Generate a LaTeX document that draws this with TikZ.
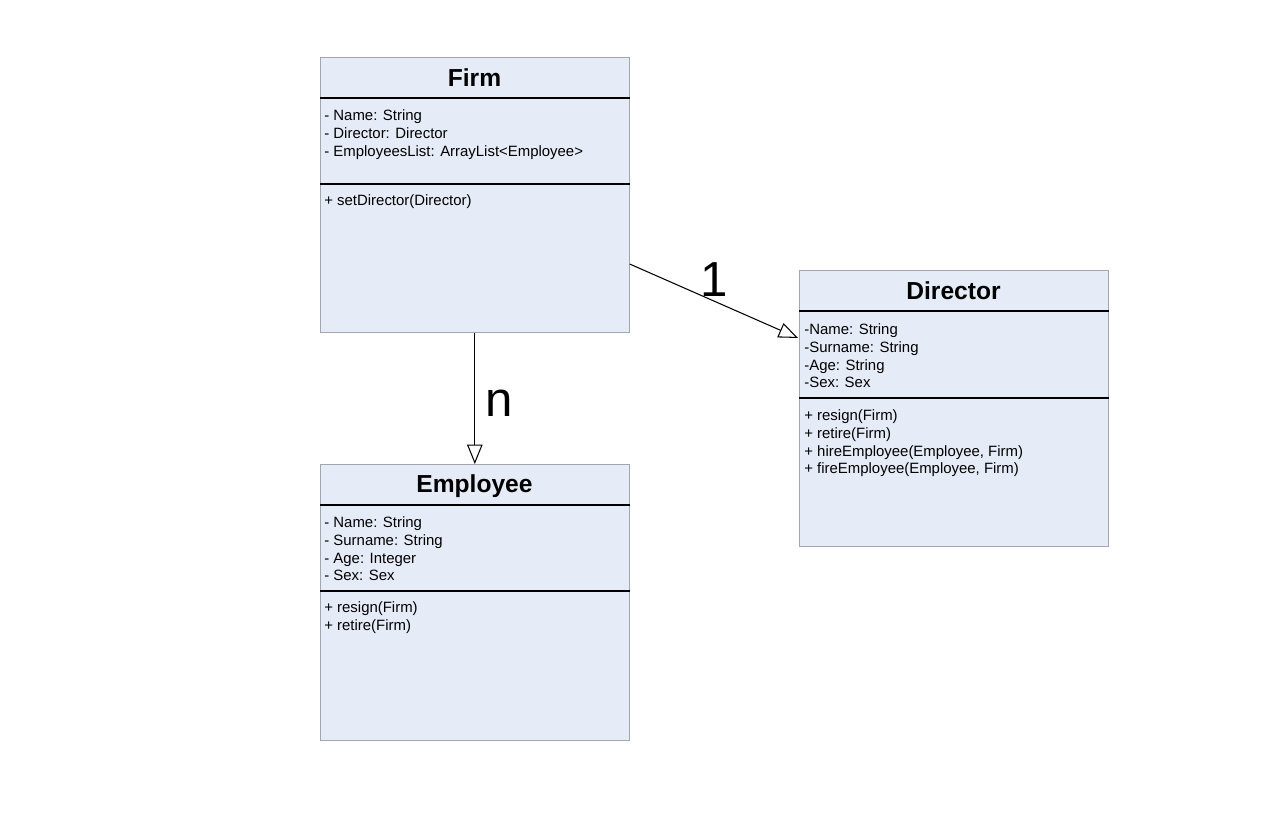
\documentclass[tikz,border=0pt]{standalone}
\usepackage{fontspec}
\setmainfont{Liberation Sans}
\usepackage{tikz}
\usetikzlibrary{arrows.meta,positioning,calc}
\usepackage{xcolor}
\definecolor{classfill}{HTML}{E6ECF7}
\definecolor{classrim}{HTML}{A4A6AE}

\begin{document}
\begin{tikzpicture}[
  x=0.02cm, y=-0.02cm,
  classbox/.style={draw=classrim, fill=classfill, anchor=north west, inner sep=0pt,
                   minimum width=6.18cm, minimum height=5.52cm},
  classname/.style={anchor=base, inner sep=0pt, font=\bfseries\fontsize{14}{16}\selectfont},
  members/.style={anchor=north west, align=left, inner sep=0pt,
                  font=\fontsize{8.5}{10.2}\selectfont},
  sep/.style={line width=0.75pt},
  arr/.style={-{Triangle[open, length=11pt, width=8.8pt]}, line width=0.6pt},
  mult/.style={inner sep=2pt, font=\fontsize{28}{30}\selectfont}
]
\useasboundingbox (0,0) rectangle (1268,830);

% Firm
\node[classbox, minimum height=5.5cm] (firm) at (320,57) {};
\node[classname] (firmname) at (474.5,87) {Firm};
\draw[sep] ($(firm.north west)+(0,41)$) -- ($(firm.north east)+(0,41)$);
\node[members] (firmattr) at (324,109) {- Name: String\\- Director: Director\\- EmployeesList: ArrayList<Employee>};
\draw[sep] ($(firm.north west)+(0,127)$) -- ($(firm.north east)+(0,127)$);
\node[members] (firmops) at (324,194) {+ setDirector(Director)};

% Director
\node[classbox] (director) at (799,270) {};
\node[classname] (dirname) at (953.5,300) {Director};
\draw[sep] ($(director.north west)+(0,41)$) -- ($(director.north east)+(0,41)$);
\node[members] (dirattr) at (804,323) {-Name: String\\-Surname: String\\-Age: String\\-Sex: Sex};
\draw[sep] ($(director.north west)+(0,128)$) -- ($(director.north east)+(0,128)$);
\node[members] (dirops) at (804,409) {+ resign(Firm)\\+ retire(Firm)\\+ hireEmployee(Employee, Firm)\\+ fireEmployee(Employee, Firm)};

% Employee
\node[classbox] (employee) at (320,464) {};
\node[classname] (empname) at (474.5,493) {Employee};
\draw[sep] ($(employee.north west)+(0,41)$) -- ($(employee.north east)+(0,41)$);
\node[members] (empattr) at (324,516) {- Name: String\\- Surname: String\\- Age: Integer\\- Sex: Sex};
\draw[sep] ($(employee.north west)+(0,127)$) -- ($(employee.north east)+(0,127)$);
\node[members] (empops) at (324,601) {+ resign(Firm)\\+ retire(Firm)};

% associations
\draw[arr] ($(firm.north east)+(0,207)$) -- node[mult, midway, above] (one) {1} ($(director.north west)+(-1,68)$);
\draw[arr] (firm.south) -- node[mult, midway, right, inner sep=6pt, yshift=-3pt] (many) {n} (employee.north);
\end{tikzpicture}
\end{document}
